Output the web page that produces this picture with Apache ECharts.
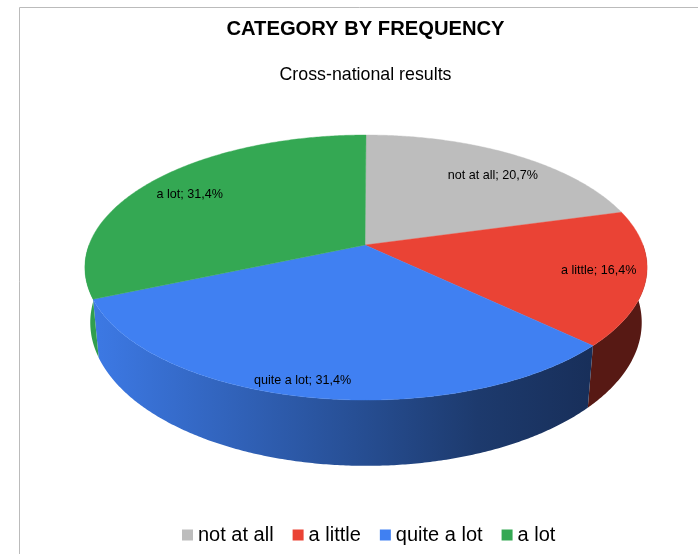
<!DOCTYPE html>
<html>
<head>
<meta charset="utf-8">
<style>html,body{margin:0;padding:0;background:#fff}#c{width:698px;height:554px}</style>
<script src="https://cdn.jsdelivr.net/npm/echarts@6/dist/echarts.min.js"></script>
</head>
<body>
<div id="c"></div>
<script>
const categories = ['not at all', 'a little', 'quite a lot', 'a lot'];
const values = [20.7, 16.4, 31.4, 31.4];
const valueLabels = ['20,7%', '16,4%', '31,4%', '31,4%'];
const palette = ['#bdbdbd', '#ea4335', '#4080f2', '#34a853'];
const labelAngle = [40.3, 103.1, 192.3, 301.6];
const labelRadius = [0.78, 0.835, 0.912, 0.80];

const total = values.reduce((a, b) => a + b, 0);
const RAD = Math.PI / 180;
// Perspective projection of the disc: top face and bottom face
const topFace = { cx: 366, cy: 245, R: 277, h: 128.7, k: 0.17 };
const botFace = { cx: 366, cy: 299, R: 272, h: 139.5, k: 0.164 };
function project(f, deg, r) {
  const s = Math.sin(deg * RAD), c = Math.cos(deg * RAD), rr = r === undefined ? 1 : r;
  const d = 1 + f.k * rr * c;
  return [f.cx + f.R * rr * s / d, f.cy - f.h * rr * c / d];
}
function shade(hex, m) {
  const n = parseInt(hex.slice(1), 16);
  const p = [(n >> 16) & 255, (n >> 8) & 255, n & 255].map(v => Math.round(v * m));
  return 'rgb(' + p.join(',') + ')';
}
function wallFill(base) {
  return {
    type: 'linear', global: true, x: 85, y: 0, x2: 647, y2: 0,
    colorStops: [
      { offset: 0, color: shade(base, 0.95) },
      { offset: 0.05, color: shade(base, 0.92) },
      { offset: 0.5, color: shade(base, 0.6) },
      { offset: 0.7, color: shade(base, 0.45) },
      { offset: 0.9, color: shade(base, 0.37) },
      { offset: 1, color: shade(base, 0.37) }
    ]
  };
}
function arc(f, a, b) {
  const pts = [], n = Math.max(2, Math.ceil(Math.abs(b - a) * 2));
  for (let i = 0; i <= n; i++) pts.push(project(f, a + (b - a) * i / n));
  return pts;
}
function sectorItem(idx) {
  const start = values.slice(0, idx).reduce((a, b) => a + b, 0) / total * 360;
  const end = start + values[idx] / total * 360;
  const color = palette[idx];
  const children = [];
  const wa = Math.max(start, 90), wb = Math.min(end, 270);
  if (wb > wa) {
    children.push({
      type: 'polygon', z2: 1,
      shape: { points: arc(topFace, wa, wb).concat(arc(botFace, wa, wb).reverse()) },
      style: { fill: wallFill(color) }
    });
  }
  children.push({
    type: 'polygon', z2: 5,
    shape: { points: [[topFace.cx - 1, topFace.cy]].concat(arc(topFace, start, end)) },
    style: { fill: color, stroke: color, lineWidth: 0.4 }
  });
  const p = project(topFace, labelAngle[idx], labelRadius[idx]);
  children.push({
    type: 'text', z2: 10, silent: true, x: p[0], y: p[1],
    style: {
      text: categories[idx] + '; ' + valueLabels[idx], fill: '#000',
      font: '12.6px "Liberation Sans", Arial, sans-serif', align: 'center', verticalAlign: 'middle'
    }
  });
  return { type: 'group', children };
}

const chart = echarts.init(document.getElementById('c'), null, { renderer: 'canvas' });
chart.setOption({
  backgroundColor: '#ffffff',
  animation: false,
  title: {
    text: 'CATEGORY BY FREQUENCY', subtext: 'Cross-national results',
    left: 360.5, top: 14, textAlign: 'center', itemGap: 27,
    textStyle: { fontFamily: '"Liberation Sans", Arial, sans-serif', fontSize: 20.2, fontWeight: 'bold', color: '#000' },
    subtextStyle: { fontFamily: '"Liberation Sans", Arial, sans-serif', fontSize: 17.8, color: '#000' }
  },
  legend: {
    left: 177, top: 520, icon: 'rect', itemWidth: 11, itemHeight: 11, itemGap: 19,
    selectedMode: false, data: categories,
    textStyle: { fontFamily: '"Liberation Sans", Arial, sans-serif', fontSize: 20, color: '#000', padding: [0, 0, 0, 0] },
    formatter: n => n
  },
  graphic: [{
    type: 'rect', silent: true, z: -1,
    shape: { x: 19.5, y: 7.5, width: 900, height: 800 },
    style: { fill: 'none', stroke: '#bbbbbb', lineWidth: 1 }
  }],
  series: categories.map((name, idx) => ({
    type: 'custom', name, coordinateSystem: 'none', silent: true,
    itemStyle: { color: palette[idx] },
    data: [values[idx]],
    renderItem: () => sectorItem(idx)
  }))
});
</script>
</body>
</html>
